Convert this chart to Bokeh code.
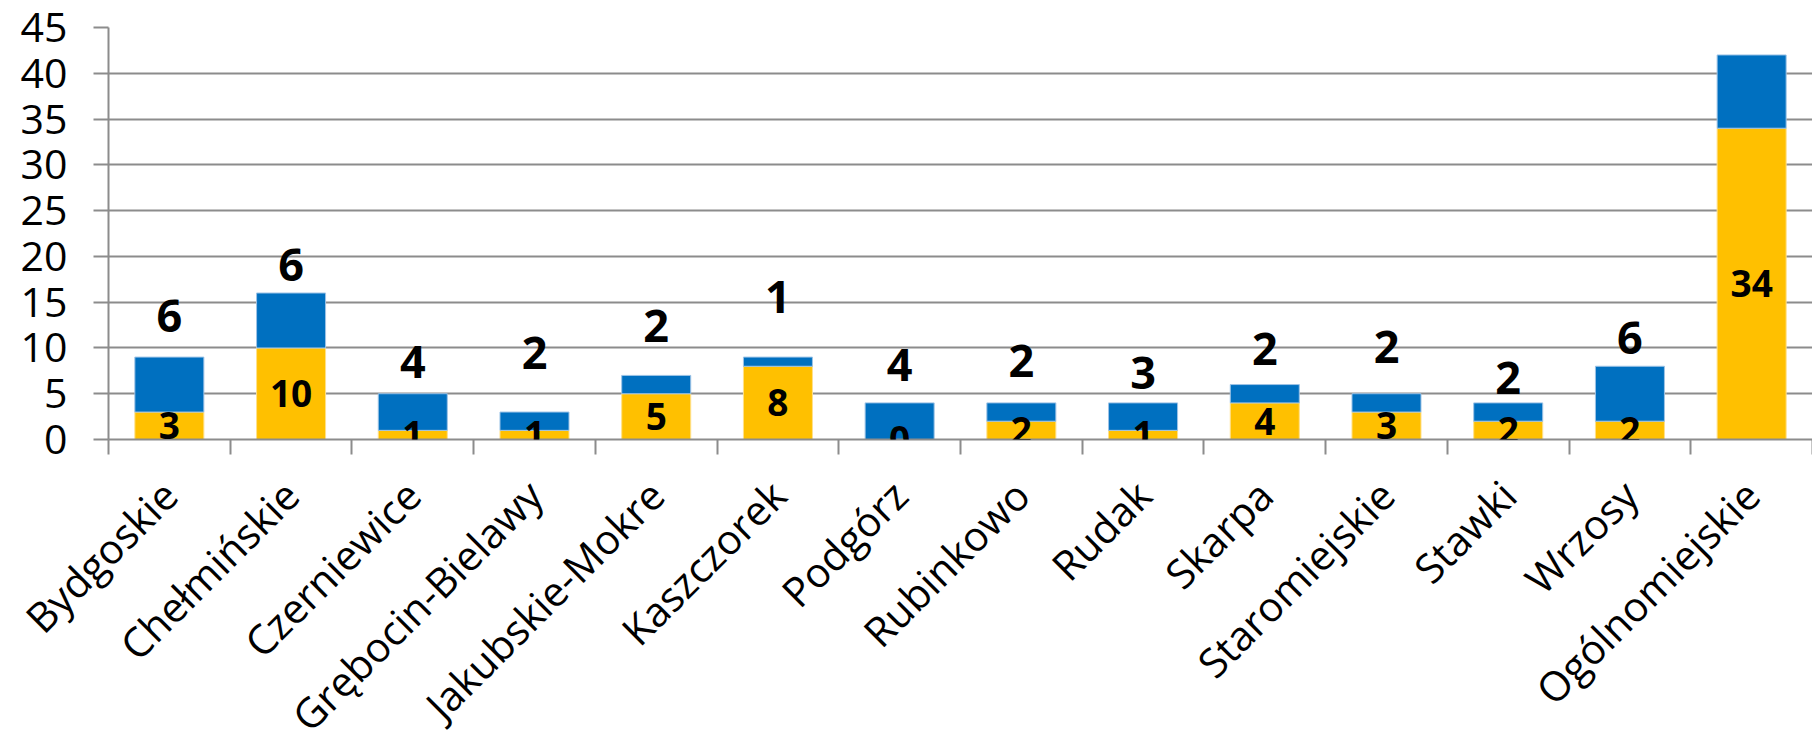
from bokeh.plotting import figure
from bokeh.models import ColumnDataSource, Range1d, LinearAxis, FixedTicker, Label
from bokeh.core.properties import value
from bokeh.embed import file_html
from bokeh.resources import INLINE
import math

# ---- data ----
categories = ["Bydgoskie", "Chełmińskie", "Czerniewice", "Grębocin-Bielawy", "Jakubskie-Mokre",
              "Kaszczorek", "Podgórz", "Rubinkowo", "Rudak", "Skarpa", "Staromiejskie",
              "Stawki", "Wrzosy", "Ogólnomiejskie"]
yellow_vals = [3, 10, 1, 1, 5, 8, 0, 2, 1, 4, 3, 2, 2, 34]
blue_vals = [6, 6, 4, 2, 2, 1, 4, 2, 3, 2, 2, 2, 6, 8]
# where the (manually placed) labels of the blue series sit
top_label_pos = [13.5, 19.1, 8.45, 9.4, 12.4, 15.55, 8.1, 8.6, 7.3, 9.9, 10.1, 6.7, 11.1]
y_ticks = list(range(0, 50, 5))

YELLOW = "#FFC000"
BLUE = "#0070C0"
GRID = "#8C8C8C"
FONT = "Open Sans"

n = len(categories)
centers = [i + 0.5 for i in range(n)]
totals = [a + b for a, b in zip(yellow_vals, blue_vals)]
src = ColumnDataSource(dict(
    x=centers,
    y0=[0] * n,
    y1=yellow_vals,
    y2=totals,
))
top_src = ColumnDataSource(dict(
    x=centers[:len(top_label_pos)],
    y=top_label_pos,
    txt=[str(v) for v in blue_vals[:len(top_label_pos)]],
))

p = figure(frame_width=1704, frame_height=412, x_range=Range1d(0, n), y_range=Range1d(0, 45),
           output_backend="svg", toolbar_location=None,
           x_axis_location=None, y_axis_location="left",
           min_border_left=108, min_border_right=0, min_border_top=27, min_border_bottom=0)
p.outline_line_color = None
p.background_fill_color = "white"

W = 0.567
p.vbar(x="x", bottom="y0", top="y1", width=W, source=src, fill_color=YELLOW,
       line_color="#FFE08A", line_width=1)
p.vbar(x="x", bottom="y1", top="y2", width=W, source=src, fill_color=BLUE,
       line_color="#9DC3E6", line_width=1)

# labels of the yellow series, centred in their segment (allowed to spill below the axis)
for cx, v in zip(centers, yellow_vals):
    p.add_layout(Label(x=cx, y=v / 2, text=str(v), text_align="center", text_baseline="middle",
                       text_font=FONT, text_font_style="bold", text_font_size="37px",
                       text_color="black", level="overlay"))

p.text(x="x", y="y", text="txt", source=top_src, text_align="center", text_baseline="middle",
       text_font=value(FONT), text_font_style="bold", text_font_size="45px", text_color="black")

# y axis
yax = p.yaxis[0]
yax.ticker = FixedTicker(ticks=y_ticks)
yax.axis_line_color = GRID
yax.axis_line_width = 2
yax.major_tick_line_color = GRID
yax.major_tick_line_width = 2
yax.major_tick_in = 0
yax.major_tick_out = 15
yax.minor_tick_line_color = None
yax.major_label_standoff = 26
yax.major_label_text_font = FONT
yax.major_label_text_font_size = "41px"
yax.major_label_text_color = "black"

p.ygrid.ticker = FixedTicker(ticks=y_ticks)
p.ygrid.grid_line_color = GRID
p.ygrid.grid_line_width = 2
p.xgrid.grid_line_color = None

# boundary tick axis (tick marks between categories)
tick_ax = LinearAxis(ticker=FixedTicker(ticks=list(range(n + 1))))
tick_ax.major_label_overrides = {i: "" for i in range(n + 1)}
tick_ax.axis_line_color = GRID
tick_ax.axis_line_width = 2
tick_ax.major_tick_line_color = GRID
tick_ax.major_tick_line_width = 2
tick_ax.major_tick_in = 0
tick_ax.major_tick_out = 15
tick_ax.minor_tick_line_color = None
tick_ax.major_label_standoff = 0
tick_ax.major_label_text_font_size = "1px"
p.add_layout(tick_ax, "below")

# category label axis
cat_ax = LinearAxis(ticker=FixedTicker(ticks=centers))
cat_ax.major_label_overrides = {c: name for c, name in zip(centers, categories)}
cat_ax.axis_line_color = None
cat_ax.major_tick_line_color = None
cat_ax.minor_tick_line_color = None
cat_ax.major_tick_out = 0
cat_ax.major_tick_in = 0
cat_ax.major_label_orientation = math.pi / 4
cat_ax.major_label_standoff = 33
cat_ax.major_label_text_font = FONT
cat_ax.major_label_text_font_size = "41px"
cat_ax.major_label_text_color = "black"
p.add_layout(cat_ax, "below")

open("out.html", "w").write(file_html(p, INLINE))
